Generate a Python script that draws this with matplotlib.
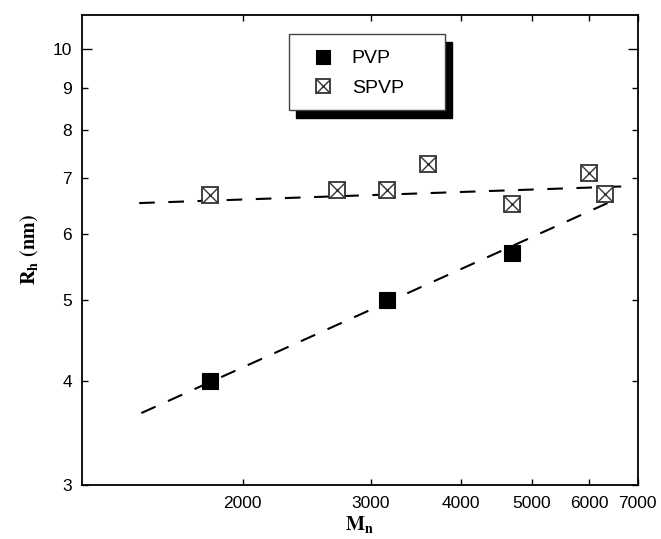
import numpy as np
import matplotlib
matplotlib.use("Agg")
import matplotlib.pyplot as plt
from matplotlib.patches import Rectangle
from matplotlib.ticker import NullLocator

plt.rcParams['font.family'] = ['Liberation Sans', 'DejaVu Sans']
plt.rcParams['mathtext.fontset'] = 'stix'

# data
pvp_mn = [1800, 3160, 4700]
pvp_rh = [4.0, 5.0, 5.7]
spvp_mn = [1800, 2700, 3160, 3600, 4700, 6000, 6300]
spvp_rh = [6.68, 6.78, 6.79, 7.29, 6.53, 7.10, 6.70]

# dashed trend lines (end points)
pvp_fit_mn = [1450, 6360]
pvp_fit_rh = [3.66, 6.54]
spvp_fit_mn = [1440, 6740]
spvp_fit_rh = [6.54, 6.85]

x_ticks = [2000, 3000, 4000, 5000, 6000, 7000]
y_major = [10]
y_minor = [3, 4, 5, 6, 7, 8, 9]

fig = plt.figure(figsize=(6.61, 5.39), dpi=100)
ax = fig.add_axes([0.1236, 0.1002, 0.8412, 0.8720])

ax.set_xscale('log')
ax.set_yscale('log')

dash = (7.5, 6.5)
ax.plot(pvp_fit_mn, pvp_fit_rh, color='black', lw=1.5, dashes=dash, zorder=2)
ax.plot(spvp_fit_mn, spvp_fit_rh, color='black', lw=1.5, dashes=dash, zorder=2)

h1, = ax.plot(pvp_mn, pvp_rh, ls='none', marker='s', ms=12, mfc='black',
              mec='black', mew=0.8, zorder=3)
h2a, = ax.plot(spvp_mn, spvp_rh, ls='none', marker='s', ms=11.5, mfc='white',
               mec='#333333', mew=1.3, zorder=3)
h2b, = ax.plot(spvp_mn, spvp_rh, ls='none', marker='x', ms=11.5,
               mec='#333333', mew=1.0, zorder=4)

ax.set_xlim(1200, 7000)
ax.set_ylim(3, 11)

ax.set_xticks(x_ticks, labels=[str(v) for v in x_ticks])
ax.xaxis.set_minor_locator(NullLocator())
ax.set_yticks(y_major, labels=[str(v) for v in y_major])
ax.set_yticks(y_minor, labels=[str(v) for v in y_minor], minor=True)

ax.tick_params(axis='both', which='both', direction='in', top=True, right=True,
               labelsize=12.5, width=1.0, color='black')
ax.tick_params(axis='x', which='major', length=4, pad=8)
ax.tick_params(axis='y', which='major', length=7, pad=7)
ax.tick_params(axis='y', which='minor', length=4, pad=7)
for s in ax.spines.values():
    s.set_linewidth(1.3)

ax.set_xlabel(r'$\mathbf{M_n}$', fontsize=14.5, labelpad=2)
ax.set_ylabel(r'$\mathbf{R_h\ (nm)}$', fontsize=14.5, labelpad=8)

# legend box with solid shadow
bx, by, bw, bh = 0.372, 0.798, 0.281, 0.1617
ax.add_patch(Rectangle((bx + 0.0137, by - 0.0177), bw, bh, transform=ax.transAxes,
                       facecolor='black', edgecolor='black', zorder=5))
ax.add_patch(Rectangle((bx, by), bw, bh, transform=ax.transAxes,
                       facecolor='white', edgecolor='#444444', lw=1.0, zorder=6))
leg = ax.legend([h1, (h2a, h2b)], ['PVP', 'SPVP'], loc='center left',
                bbox_to_anchor=(0.4157, 0.876), frameon=False, fontsize=14,
                handlelength=1.0, handletextpad=1.0, labelspacing=0.6,
                borderpad=0, borderaxespad=0, markerscale=0.85)
leg.set_zorder(7)

fig.savefig('out.png', dpi=100)
